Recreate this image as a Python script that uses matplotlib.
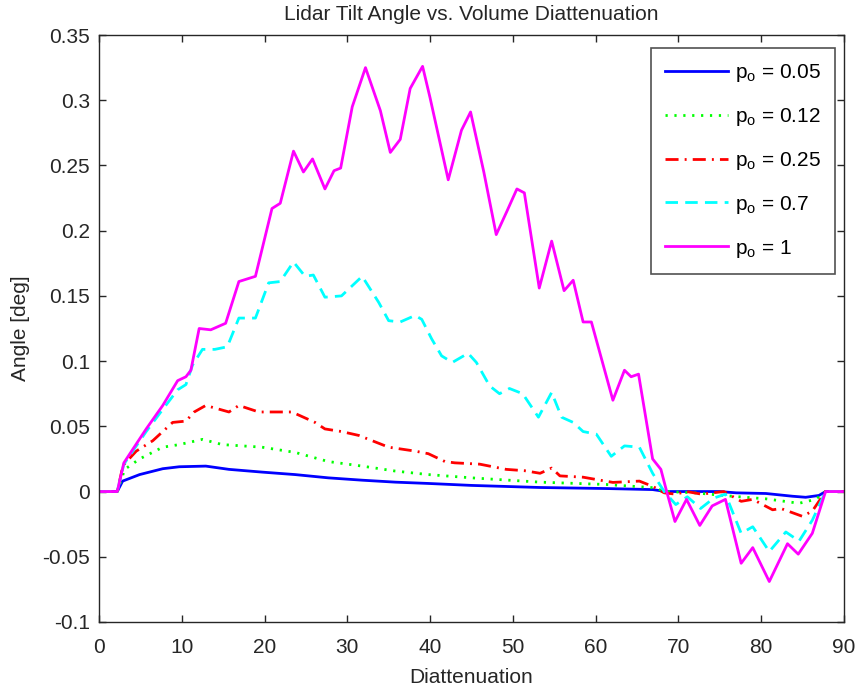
import matplotlib
matplotlib.use('Agg')
import matplotlib.pyplot as plt

plt.rcParams['font.family'] = ['Liberation Sans', 'DejaVu Sans']
plt.rcParams['mathtext.default'] = 'regular'

# p_o = 0.05
x_005 = [0, 2.2, 2.85, 4.9, 7.7, 9.7, 12.9, 15.7, 19.7, 23.7, 27.7, 31.8, 35.8, 39.8, 45.0,
         53.3, 61.3, 66.9, 68.5, 75.0, 77.0, 80.6, 83.8, 85.4, 87.0, 87.8, 90]
y_005 = [0, 0, 0.008, 0.013, 0.0175, 0.019, 0.0195, 0.017, 0.0149, 0.013, 0.0105, 0.0087, 0.0072,
         0.0062, 0.0047, 0.0031, 0.0023, 0.0015, 0, 0, -0.001, -0.0015, -0.0036, -0.0044, -0.003, 0, 0]

# p_o = 0.12
x_012 = [0, 2.2, 3.1, 4.9, 7.7, 9.7, 12.5, 14.9, 19.7, 23.7, 27.7, 31.8, 35.8, 39.8, 45.0,
         53.3, 61.3, 66.9, 68.5, 72.0, 76.5, 80.6, 84.6, 86.6, 87.8, 90]
y_012 = [0, 0, 0.017, 0.025, 0.034, 0.036, 0.040, 0.036, 0.034, 0.030, 0.023, 0.0195, 0.0157,
         0.013, 0.0105, 0.0072, 0.0054, 0.003, 0.0, -0.001, -0.0036, -0.0056, -0.009, -0.006, 0, 0]

# p_o = 0.25
x_025 = [0, 2.2, 2.9, 4.5, 6.5, 8.9, 10.5, 11.5, 12.9, 15.7, 16.9, 19.3, 23.3, 26.1, 27.3,
         29.3, 31.4, 33.0, 35.0, 38.2, 39.8, 41.8, 43.0, 46.0, 49.2, 51.4, 53.3, 54.7, 55.7,
         58.5, 62.1, 65.3, 66.9, 68.3, 69.7, 71.0, 72.8, 75.5, 77.6, 79.0, 81.4, 82.4, 85.0,
         86.2, 87.8, 90]
y_025 = [0, 0, 0.020, 0.031, 0.039, 0.053, 0.054, 0.061, 0.066, 0.061, 0.066, 0.061, 0.061,
         0.053, 0.048, 0.046, 0.043, 0.039, 0.034, 0.031, 0.029, 0.023, 0.022, 0.021, 0.017,
         0.016, 0.014, 0.018, 0.012, 0.011, 0.007, 0.008, 0.004, -0.001, -0.002, 0.0, -0.002,
         0.0, -0.0075, -0.006, -0.014, -0.013, -0.019, -0.015, 0, 0]

# p_o = 0.7
x_07 = [0, 2.2, 3.0, 5.7, 7.7, 9.5, 10.5, 11.3, 12.5, 14.0, 15.5, 16.9, 18.9, 20.5, 21.9,
        23.5, 24.9, 25.9, 27.3, 29.3, 31.8, 33.8, 35.0, 36.4, 38.2, 39.0, 40.2, 41.4, 42.7,
        44.6, 45.6, 47.2, 48.4, 49.6, 51.2, 53.1, 54.7, 55.9, 57.3, 58.5, 60.1, 61.9, 63.5,
        65.3, 66.9, 68.3, 69.7, 71.1, 72.7, 74.3, 75.7, 77.6, 79.0, 81.0, 83.0, 84.6, 86.2,
        87.8, 90]
y_07 = [0, 0, 0.021, 0.046, 0.063, 0.078, 0.082, 0.097, 0.109, 0.109, 0.111, 0.133, 0.133,
        0.160, 0.161, 0.176, 0.165, 0.166, 0.149, 0.150, 0.165, 0.145, 0.131, 0.130, 0.135,
        0.132, 0.117, 0.104, 0.099, 0.106, 0.099, 0.081, 0.075, 0.079, 0.075, 0.057, 0.076,
        0.057, 0.053, 0.046, 0.044, 0.027, 0.035, 0.034, 0.014, 0, -0.010, -0.004, -0.013,
        -0.005, -0.002, -0.032, -0.027, -0.046, -0.031, -0.038, -0.022, 0, 0]

# p_o = 1
x_1 = [0, 2.2, 3.0, 5.7, 7.7, 9.5, 10.5, 11.1, 12.1, 13.5, 15.3, 16.9, 18.9, 20.9, 21.9,
       23.5, 24.7, 25.8, 27.3, 28.4, 29.2, 30.6, 32.2, 34.0, 35.2, 36.4, 37.6, 39.1, 40.0,
       42.2, 43.8, 44.9, 46.5, 48.0, 49.3, 50.5, 51.4, 53.2, 54.7, 56.2, 57.3, 58.5, 59.5,
       62.1, 63.5, 64.3, 65.2, 66.9, 67.9, 68.6, 69.6, 71.0, 72.6, 74.1, 75.7, 77.6, 79.0,
       81.0, 83.2, 84.5, 86.2, 87.8, 90]
y_1 = [0, 0, 0.022, 0.048, 0.066, 0.085, 0.088, 0.093, 0.125, 0.124, 0.129, 0.161, 0.165,
       0.217, 0.221, 0.261, 0.245, 0.255, 0.232, 0.246, 0.248, 0.295, 0.325, 0.292, 0.260,
       0.270, 0.309, 0.326, 0.302, 0.239, 0.277, 0.291, 0.245, 0.197, 0.215, 0.232, 0.229,
       0.156, 0.192, 0.154, 0.162, 0.130, 0.130, 0.070, 0.093, 0.088, 0.090, 0.025, 0.017,
       0.0, -0.023, -0.006, -0.026, -0.011, -0.006, -0.055, -0.043, -0.069, -0.040, -0.048,
       -0.032, 0, 0]

fs = 15
ink = '#262626'

fig = plt.figure(figsize=(8.56, 6.91), dpi=100)
ax = fig.add_axes([0.1157, 0.0999, 0.870, 0.8494])

ax.plot(x_005, y_005, color=(0, 0, 1), lw=2, ls='-', label='$p_o$ = 0.05')
ax.plot(x_012, y_012, color=(0, 1, 0), lw=2, ls=(0, (0.8, 2.4)), label='$p_o$ = 0.12')
ax.plot(x_025, y_025, color=(1, 0, 0), lw=2, ls=(0, (4.7, 2.2, 0.7, 2.2)), label='$p_o$ = 0.25')
ax.plot(x_07, y_07, color=(0, 1, 1), lw=2, ls=(0, (4.5, 2.6)), label='$p_o$ = 0.7')
ax.plot(x_1, y_1, color=(1, 0, 1), lw=2, ls='-', label='$p_o$ = 1')

ax.set_xlim(0, 90)
ax.set_ylim(-0.1, 0.35)
ax.set_xticks(range(0, 91, 10))
ax.set_yticks([-0.1, -0.05, 0, 0.05, 0.1, 0.15, 0.2, 0.25, 0.3, 0.35])
ax.set_yticklabels(['-0.1', '-0.05', '0', '0.05', '0.1', '0.15', '0.2', '0.25', '0.3', '0.35'])
ax.tick_params(direction='in', top=True, right=True, length=5, labelsize=fs,
               colors=ink, width=1)
ax.tick_params(axis='x', pad=11.5)
ax.tick_params(axis='y', pad=6.5)
for s in ax.spines.values():
    s.set_color(ink)
    s.set_linewidth(1)

ax.set_xlabel('Diattenuation', fontsize=fs, color=ink, labelpad=8)
ax.set_ylabel('Angle [deg]', fontsize=fs, color=ink, labelpad=9)
ax.set_title('Lidar Tilt Angle vs. Volume Diattenuation', fontsize=fs, color=ink, pad=11)

leg = ax.legend(loc='upper right', bbox_to_anchor=(0.9885, 0.978), fontsize=fs,
                frameon=True, fancybox=False, edgecolor=ink, handlelength=3.0,
                labelspacing=1.05, borderaxespad=0, handletextpad=0.35, borderpad=0.68)
leg.get_frame().set_linewidth(1.2)

fig.savefig('out.png', dpi=100)
